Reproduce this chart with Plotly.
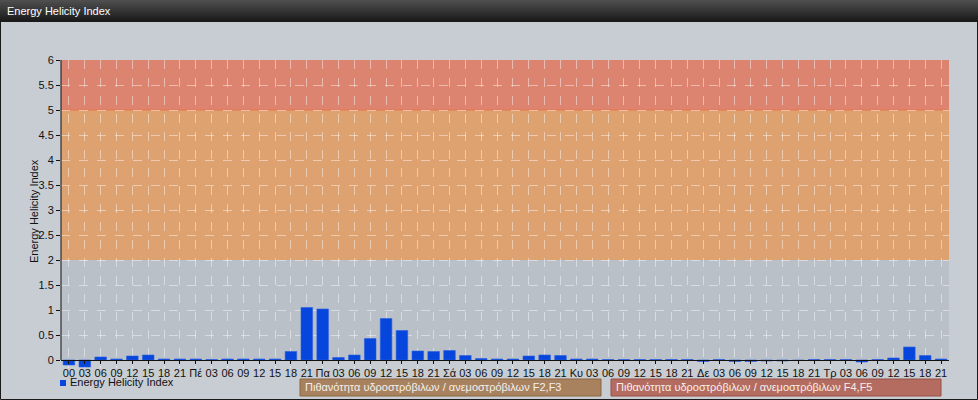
import plotly.graph_objects as go

# ---------------- data ----------------
tick_labels = ["00", "03", "06", "09", "12", "15", "18", "21",
               "Πέ", "03", "06", "09", "12", "15", "18", "21",
               "Πα", "03", "06", "09", "12", "15", "18", "21",
               "Σά", "03", "06", "09", "12", "15", "18", "21",
               "Κυ", "03", "06", "09", "12", "15", "18", "21",
               "Δε", "03", "06", "09", "12", "15", "18", "21",
               "Τρ", "03", "06", "09", "12", "15", "18", "21"]
ehi_values = [-0.10, -0.14, 0.06, 0.02, 0.08, 0.10, 0.02, 0.02,
              0.02, 0.01, 0.02, 0.02, 0.02, 0.02, 0.17, 1.05,
              1.02, 0.05, 0.10, 0.43, 0.83, 0.59, 0.18, 0.17,
              0.19, 0.09, 0.03, 0.02, 0.02, 0.08, 0.10, 0.09,
              0.02, 0.02, 0.01, 0.01, 0.01, 0.01, 0.01, 0.01,
              -0.03, 0.01, -0.03, -0.03, -0.02, -0.02, -0.01, 0.01,
              0.01, 0.01, -0.04, 0.01, 0.04, 0.26, 0.09, 0.02]
y_ticks = [0, 0.5, 1, 1.5, 2, 2.5, 3, 3.5, 4, 4.5, 5, 5.5, 6]
y_tick_text = ["0", "0.5", "1", "1.5", "2", "2.5", "3", "3.5", "4", "4.5", "5", "5.5", "6"]
band_ranges = [(2, 5), (5, 6)]
chart_title = "Energy Helicity Index"
series_name = "Energy Helicity Index"
box_labels = ["Πιθανότητα υδροστρόβιλων / ανεμοστρόβιλων F2,F3",
              "Πιθανότητα υδροστρόβιλων / ανεμοστρόβιλων F4,F5"]

# ---------------- layout helpers ----------------
W, H = 978, 400
L, R, T, B = 61, 949, 60, 368       # plot area (extends 8px below zero line)
ZERO_PX = 360                        # pixel row of y = 0
Y_MIN = -(B - ZERO_PX) / 50.0        # 50 px per unit
PW, PH = R - L, B - T


def px(x):
    return (x - L) / PW


def py(y):
    return (B - y) / PH


FONT = "Liberation Sans, Arial, sans-serif"
xs = list(range(len(tick_labels)))

fig = go.Figure()
fig.add_trace(go.Bar(
    x=xs, y=ehi_values, name=series_name,
    marker=dict(color="#0646dc", line=dict(color="#2c5ee0", width=0.6)),
    width=0.73, showlegend=False,
))

shapes = []
# outer frame
shapes.append(dict(type="rect", xref="paper", yref="paper",
                   x0=px(0.5), x1=px(W - 0.5), y0=py(H - 0.5), y1=py(0.5),
                   line=dict(color="#1a1a1a", width=1), fillcolor="rgba(0,0,0,0)",
                   layer="below"))
# title bar gradient
n = 11
for i in range(n):
    t = i / (n - 1)
    c0, c1 = (78, 78, 78), (26, 26, 26)
    c = tuple(int(c0[k] + (c1[k] - c0[k]) * t) for k in range(3))
    shapes.append(dict(type="rect", xref="paper", yref="paper",
                       x0=px(0), x1=px(W), y0=py(2 * (i + 1)), y1=py(2 * i),
                       line=dict(width=0), fillcolor="rgb(%d,%d,%d)" % c, layer="below"))
# plot background strip below zero -> paper colour (hides gridlines, keeps bars)
shapes.append(dict(type="rect", xref="paper", yref="y", x0=0, x1=1, y0=Y_MIN, y1=0,
                   line=dict(width=0), fillcolor="#c8cdd3", layer="between"))
# bands
band_colors = ["#dea170", "#dc8470"]
for (y0, y1), col in zip(band_ranges, band_colors):
    shapes.append(dict(type="rect", xref="paper", yref="y", x0=0, x1=1, y0=y0, y1=y1,
                       line=dict(width=0), fillcolor=col, layer="below"))
shapes.append(dict(type="line", xref="paper", yref="y", x0=0, x1=1, y0=5, y1=5,
                   line=dict(color="#e8744c", width=1), layer="below"))
# y axis line (from 0 to top)
shapes.append(dict(type="line", xref="paper", yref="y", x0=0, x1=0, y0=0, y1=6,
                   line=dict(color="#111111", width=1), layer="above"))
# legend square
shapes.append(dict(type="rect", xref="paper", yref="paper",
                   x0=px(60), x1=px(66), y0=py(386), y1=py(380),
                   line=dict(width=0), fillcolor="#0646dc"))
# boxes
box_fill = ["#a8825f", "#b46c60"]
box_line = ["#8c6440", "#984e44"]
box_x = [(300, 601), (611, 941)]
for (x0, x1), f, lc in zip(box_x, box_fill, box_line):
    shapes.append(dict(type="rect", xref="paper", yref="paper",
                       x0=px(x0), x1=px(x1), y0=py(396), y1=py(379),
                       line=dict(color=lc, width=1), fillcolor=f))

annotations = [
    dict(text=chart_title, xref="paper", yref="paper", x=px(5), y=py(11),
         xanchor="left", yanchor="middle", showarrow=False,
         font=dict(family=FONT, size=11, color="#ffffff")),
    dict(text=series_name, xref="paper", yref="paper", x=px(68), y=py(381.5),
         xanchor="left", yanchor="middle", showarrow=False,
         font=dict(family=FONT, size=11, color="#111111")),
    dict(text="Energy Helicity Index", xref="paper", yref="paper", x=px(34), y=py(211),
         xanchor="center", yanchor="middle", textangle=-90, showarrow=False,
         font=dict(family=FONT, size=11, color="#111111")),
]
for (x0, x1), txt in zip(box_x, box_labels):
    annotations.append(dict(text=txt, xref="paper", yref="paper", x=px(x0 + 3), y=py(387.5),
                            xanchor="left", yanchor="middle", showarrow=False,
                            font=dict(family=FONT, size=11, color="#f4f0ec")))

fig.update_layout(
    width=W, height=H,
    margin=dict(l=L, r=W - R, t=T, b=H - B, pad=0),
    paper_bgcolor="#c8cdd3",
    plot_bgcolor="#b9c0c8",
    shapes=shapes, annotations=annotations,
    showlegend=False,
    bargap=0.27,
    font=dict(family=FONT, size=11, color="#111111"),
    xaxis=dict(range=[-0.5, len(tick_labels) - 0.5], tickmode="array", tickvals=xs,
               ticktext=tick_labels, showgrid=True, gridcolor="rgba(255,255,255,0.45)",
               griddash="dash", gridwidth=1, showline=True, linecolor="#111111",
               linewidth=1, ticks="outside", ticklen=3, tickcolor="#111111",
               anchor="free", position=py(ZERO_PX),
               tickangle=0, tickfont=dict(family=FONT, size=11, color="#111111"),
               zeroline=False, fixedrange=True),
    yaxis=dict(range=[Y_MIN, 6], tickmode="array", tickvals=y_ticks, ticktext=y_tick_text,
               showgrid=True, gridcolor="rgba(255,255,255,0.45)", griddash="dash",
               gridwidth=1, showline=False,
               ticks="outside", ticklen=4, tickcolor="#111111",
               tickfont=dict(family=FONT, size=11, color="#111111"),
               zeroline=False, fixedrange=True),
)

fig.write_html("out.html", config={"displayModeBar": False},
               post_script="document.body.style.margin='0';document.body.style.overflow='hidden';")
